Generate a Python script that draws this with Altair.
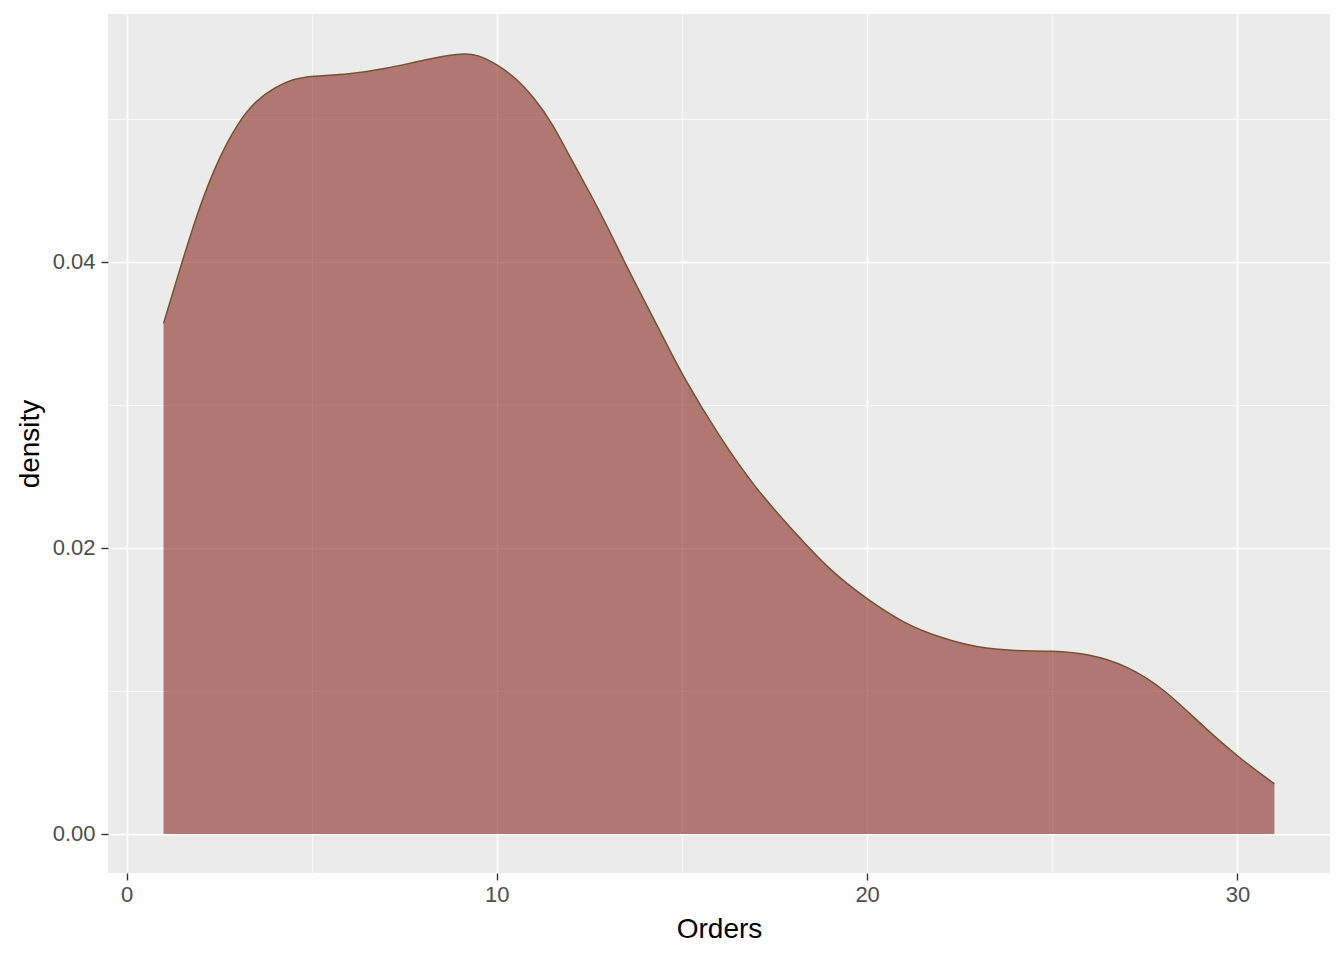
import altair as alt
import pandas as pd

orders = [1.0, 1.5, 2.0, 2.5, 3.0, 3.5, 4.0, 4.5, 5.0, 6.0, 7.0, 8.0, 9.0, 9.5,
          10.0, 10.5, 11.0, 11.5, 12.0, 12.5, 13.0, 13.5, 14.0, 14.5, 15.0, 16.0,
          17.0, 18.0, 19.0, 20.0, 21.0, 22.0, 23.0, 24.0, 25.0, 26.0, 27.0, 28.0,
          29.0, 30.0, 31.0]
density = [0.0357, 0.0400, 0.0441, 0.0473, 0.0497, 0.0513, 0.0522, 0.0528, 0.0530,
           0.0531, 0.0535, 0.0541, 0.0546, 0.0545, 0.0538, 0.0529, 0.0515, 0.0497,
           0.0472, 0.0449, 0.0424, 0.0397, 0.0372, 0.0347, 0.0321, 0.0278, 0.0241,
           0.0212, 0.0184, 0.0164, 0.0147, 0.0137, 0.0130, 0.0128, 0.0128, 0.0126,
           0.0118, 0.0102, 0.0077, 0.0054, 0.0035]

x_ticks = [0, 5, 10, 15, 20, 25, 30]
y_ticks = [0.0, 0.01, 0.02, 0.03, 0.04, 0.05]

df = pd.DataFrame({"Orders": orders, "density": density})

FONT = "Liberation Sans"

x_axis = alt.Axis(
    values=x_ticks,
    labelExpr="datum.value % 10 == 0 ? datum.label : ''",
    format="d",
    grid=True,
    gridColor="white",
    gridWidth={"condition": {"test": "datum.value % 10 == 0", "value": 1.5}, "value": 0.75},
    tickOpacity={"condition": {"test": "datum.value % 10 == 0", "value": 1}, "value": 0},
    domain=False,
    ticks=True,
    tickColor="#333333",
    tickWidth=1.4,
    tickSize=7,
    labelColor="#4D4D4D",
    labelFont=FONT,
    labelFontSize=22,
    labelPadding=4,
    title="Orders",
    titleFont=FONT,
    titleFontSize=28,
    titleFontWeight="normal",
    titleColor="black",
    titlePadding=10,
)

y_axis = alt.Axis(
    values=y_ticks,
    labelExpr="(round(datum.value * 100) % 2 == 0) ? format(datum.value, '.2f') : ''",
    grid=True,
    gridColor="white",
    gridWidth={"condition": {"test": "round(datum.value * 100) % 2 == 0", "value": 1.5}, "value": 0.75},
    tickOpacity={"condition": {"test": "round(datum.value * 100) % 2 == 0", "value": 1}, "value": 0},
    domain=False,
    ticks=True,
    tickColor="#333333",
    tickWidth=1.4,
    tickSize=7,
    labelColor="#4D4D4D",
    labelFont=FONT,
    labelFontSize=22,
    labelPadding=6,
    title="density",
    titleFont=FONT,
    titleFontSize=28,
    titleFontWeight="normal",
    titleColor="black",
    titlePadding=8,
)

x_enc = alt.X("Orders:Q", scale=alt.Scale(domain=[-0.5, 32.5], nice=False, zero=False), axis=x_axis)
y_enc = alt.Y("density:Q", scale=alt.Scale(domain=[-0.00273, 0.05733], nice=False, zero=False), axis=y_axis)

base = alt.Chart(df)

area = base.mark_area(
    fill="#8B2A22",
    fillOpacity=0.6,
    interpolate="basis",
    clip=True,
).encode(x=x_enc, y=y_enc, y2=alt.datum(0))

line = base.mark_line(
    color="#74532F",
    strokeWidth=1.5,
    interpolate="basis",
    clip=True,
).encode(x=x_enc, y=y_enc)

chart = (
    alt.layer(area, line)
    .properties(
        width=1222,
        height=859,
        autosize=alt.AutoSizeParams(type="none"),
        padding={"left": 100, "top": 6, "right": 6, "bottom": 79},
        background="white",
    )
    .configure_view(fill="#EBEBEB", stroke=None)
)

chart.save("out.html", embed_options={"renderer": "svg", "actions": False})
